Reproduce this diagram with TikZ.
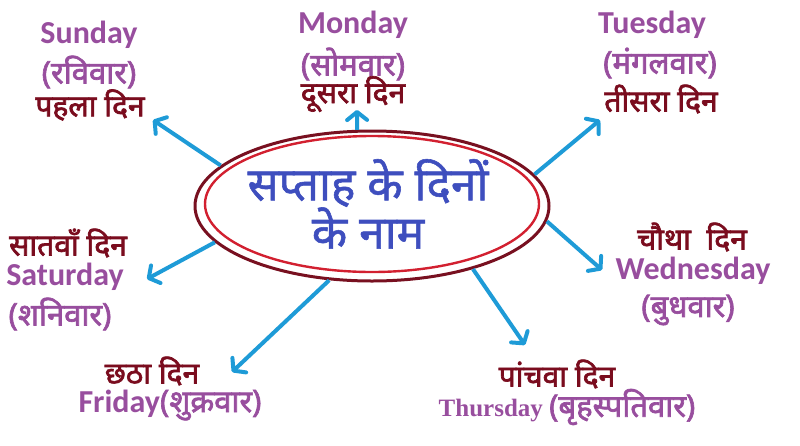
\documentclass[tikz,border=0pt]{standalone}
\usepackage{fontspec}
\usetikzlibrary{shapes.geometric,arrows.meta}
\setmainfont{Carlito}
\newfontfamily\eng{Carlito}[BoldFont={Carlito Bold}]
\newfontfamily\deva[Script=Devanagari,FakeBold=2.2]{Noto Sans}
\newfontfamily\devat[Script=Devanagari,FakeBold=1.2]{Noto Sans}
\newfontfamily\thurs{Liberation Serif}
\definecolor{dayPurple}{RGB}{152,78,158}
\definecolor{dayMaroon}{RGB}{122,12,30}
\definecolor{titleBlue}{RGB}{62,78,190}
\definecolor{arrowBlue}{RGB}{30,155,215}
\definecolor{ringDark}{RGB}{120,16,32}
\definecolor{ringRed}{RGB}{210,32,48}
\tikzset{
  eng/.style={text=dayPurple, font=\eng\bfseries\fontsize{32}{36}\selectfont, inner sep=0pt},
  hinp/.style={text=dayPurple, font=\deva\fontsize{31}{34}\selectfont, inner sep=0pt},
  hinm/.style={text=dayMaroon, font=\deva\fontsize{30}{34}\selectfont, inner sep=0pt},
  ttl/.style={text=titleBlue, font=\devat\fontsize{46}{50}\selectfont, inner sep=0pt},
  arr/.style={draw=arrowBlue, line width=4pt, -{Straight Barb[length=8pt,width=20pt,round]}},
}
\begin{document}
\begin{tikzpicture}[x=1pt,y=-1pt]
\useasboundingbox (0,0) rectangle (800,445);
% central ellipses
\node[ellipse, draw=ringDark, line width=3pt, minimum width=354pt, minimum height=150pt, inner sep=0pt] (outer) at (372,206) {};
\node[ellipse, draw=ringRed, line width=2.4pt, minimum width=334pt, minimum height=136pt, inner sep=0pt] (inner) at (372,204) {};
\node[ttl] (t1) at (368,183) {सप्ताह के दिनों};
\node[ttl] (t2) at (368,228) {के नाम};
% Sunday
\node[eng] (sun1) at (89,35) {Sunday};
\node[hinp] (sun2) at (89,72) {(रविवार)};
\node[hinm] (sun3) at (90,105) {पहला दिन};
% Monday
\node[eng] (mon1) at (353,25) {Monday};
\node[hinp] (mon2) at (353,64) {(सोमवार)};
\node[hinm] (mon3) at (353,94) {दूसरा दिन};
% Tuesday
\node[eng] (tue1) at (652,25) {Tuesday};
\node[hinp] (tue2) at (660,63) {(मंगलवार)};
\node[hinm] (tue3) at (661,99) {तीसरा दिन};
% Wednesday
\node[hinm] (wed1) at (692,237) {चौथा\ \ दिन};
\node[eng] (wed2) at (693,271) {Wednesday};
\node[hinp] (wed3) at (688,310) {(बुधवार)};
% Thursday
\node[hinm] (thu1) at (557,374) {पांचवा दिन};
\node[text=dayPurple, inner sep=0pt] (thu2) at (567,407) {{\thurs\bfseries\fontsize{25}{28}\selectfont Thursday }{\deva\fontsize{31}{34}\selectfont (बृहस्पतिवार)}};
% Friday
\node[hinm] (fri1) at (152,371) {छठा दिन};
\node[text=dayPurple, inner sep=0pt] (fri2) at (170,405) {{\eng\bfseries\fontsize{32}{36}\selectfont Friday}{\deva\fontsize{31}{34}\selectfont (शुक्रवार)}};
% Saturday
\node[hinm] (sat1) at (68,243) {सातवाँ दिन};
\node[eng] (sat2) at (65,277) {Saturday};
\node[hinp] (sat3) at (60,314) {(शनिवार)};
% arrow tips
\coordinate (sunTip) at (153,120);
\coordinate (monTip) at (357,110);
\coordinate (tueTip) at (600,120);
\coordinate (wedTip) at (602,270);
\coordinate (thuTip) at (525,345);
\coordinate (friTip) at (232,372);
\coordinate (satTip) at (147,279);
\draw[arr] (outer.165.6) -- (sunTip);
\draw[arr] (outer.101) -- (monTip);
\draw[arr] (outer.11) -- (tueTip);
\draw[arr] (outer.-5.3) -- (wedTip);
\draw[arr] (outer.-32) -- (thuTip);
\draw[arr] (outer.240.7) -- (friTip);
\draw[arr] (outer.193) -- (satTip);
\end{tikzpicture}
\end{document}
